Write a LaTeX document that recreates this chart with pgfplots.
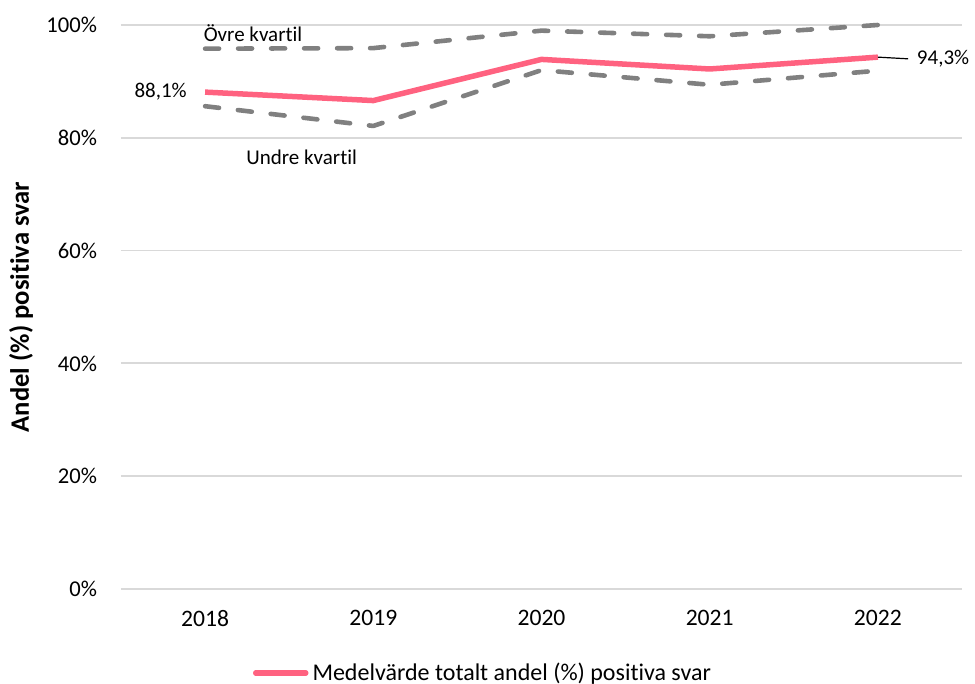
\documentclass[border=0pt]{standalone}
\usepackage{pgfplots}
\pgfplotsset{compat=1.18}
\usepackage{fontspec}
\setmainfont{Carlito}[Ligatures={NoCommon}]
\definecolor{pinkline}{HTML}{FF6280}
\definecolor{quart}{HTML}{808080}
\definecolor{gridc}{HTML}{D9D9D9}
\begin{document}
\begin{tikzpicture}
\useasboundingbox (-60.5pt,-47.5pt) rectangle ++(487.5pt,342pt);
\begin{axis}[
  scale only axis,
  width=420.5pt, height=282pt,
  at={(0,0)}, anchor=south west,
  xmin=-0.5, xmax=4.5, ymin=0, ymax=100,
  xtick={0,1,2,3,4},
  xticklabels={2018,2019,2020,2021,2022},
  ytick={0,20,40,60,80,100},
  yticklabels={0\%,20\%,40\%,60\%,80\%,100\%},
  axis line style={draw=none},
  major tick length=0pt,
  ymajorgrids, grid style={gridc, line width=0.9pt},
  yticklabel style={xshift=-8.5pt, font=\fontsize{11.3}{13}\selectfont},
  xticklabel style={yshift=-7pt, font=\fontsize{11.8}{14}\selectfont},
  /pgf/number format/assume math mode=true,
  clip=false,
  legend style={at={(0.4316,-0.149)}, anchor=center, draw=none, fill=none,
    font=\fontsize{12}{14}\selectfont, legend cell align=left,
    /tikz/every even column/.append style={column sep=2pt}},
  legend image code/.code={\draw[#1, line width=2.75pt, line cap=round] (0pt,0pt) -- (25pt,0pt);},
]
\addplot[pinkline, line width=2.75pt, line join=round] coordinates {
  (0,88.1) (1,86.6) (2,93.9) (3,92.2) (4,94.3)};
\addlegendentry{Medelvärde totalt andel (\%) positiva svar}
\addplot[quart, line width=2.3pt, line cap=round, line join=round, dash pattern=on 7pt off 9.5pt, forget plot] coordinates {
  (0,95.8) (1,95.9) (2,99.0) (3,98.0) (4,100)};
\addplot[quart, line width=2.3pt, line cap=round, line join=round, dash pattern=on 7pt off 9.5pt, forget plot] coordinates {
  (0,85.6) (1,82.1) (2,92.0) (3,89.4) (4,91.9)};
\node[anchor=west, inner sep=0pt, font=\fontsize{10.5}{12}\selectfont] at (axis cs:-0.01,98.6) {Övre kvartil};
\node[anchor=center, inner sep=0pt, font=\fontsize{10.5}{12}\selectfont] at (axis cs:0.574,76.6) {Undre kvartil};
\node[anchor=east, inner sep=0pt, font=\fontsize{10.5}{12}\selectfont] at (axis cs:-0.107,88.1) {88,1\%};
\draw[black, line width=0.6pt] (axis cs:4,94.3) -- (axis cs:4.18,94.0);
\node[anchor=west, inner sep=0pt, font=\fontsize{10.5}{12}\selectfont] at (axis cs:4.23,94.0) {94,3\%};
\end{axis}
\node[rotate=90, font=\fontsize{13.3}{15}\selectfont\bfseries] at (-50pt,141pt) {Andel (\%) positiva svar};
\end{tikzpicture}
\end{document}
